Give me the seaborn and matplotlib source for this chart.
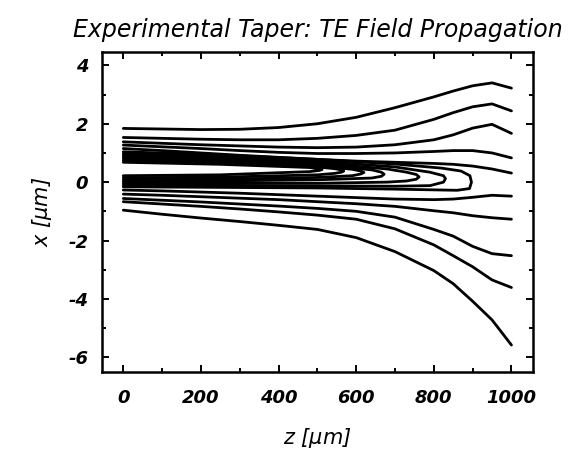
import matplotlib
matplotlib.use("Agg")
import matplotlib.pyplot as plt
from matplotlib.ticker import MultipleLocator
import numpy as np
import pandas as pd
import seaborn as sns

# Propagation distance samples (um) for the open contours
z_grid = [0, 100, 200, 300, 400, 500, 600, 700, 800, 850, 900, 950, 1000]

# Open contours above the guide (x in um)
upper_a = [1.84, 1.82, 1.80, 1.81, 1.87, 2.00, 2.22, 2.55, 2.92, 3.12, 3.30, 3.40, 3.22]
upper_b = [1.53, 1.50, 1.47, 1.45, 1.45, 1.50, 1.60, 1.78, 2.15, 2.38, 2.58, 2.68, 2.44]
upper_c = [1.38, 1.33, 1.28, 1.24, 1.20, 1.18, 1.20, 1.28, 1.45, 1.62, 1.85, 1.98, 1.67]
upper_d = [1.27, 1.21, 1.15, 1.08, 1.02, 0.98, 0.98, 1.00, 1.05, 1.08, 1.08, 1.00, 0.83]
upper_e = [1.15, 1.08, 1.00, 0.92, 0.85, 0.78, 0.72, 0.68, 0.64, 0.61, 0.55, 0.45, 0.31]

# Open contours below the guide
lower_f = [-0.27, -0.30, -0.34, -0.38, -0.43, -0.48, -0.53, -0.58, -0.60, -0.58, -0.52, -0.45, -0.48]
lower_g = [-0.41, -0.45, -0.50, -0.55, -0.60, -0.67, -0.74, -0.83, -0.98, -1.05, -1.15, -1.22, -1.27]
lower_h = [-0.56, -0.62, -0.68, -0.75, -0.82, -0.90, -1.00, -1.20, -1.62, -1.85, -2.20, -2.45, -2.52]
lower_i = [-0.67, -0.75, -0.83, -0.92, -1.02, -1.13, -1.27, -1.60, -2.15, -2.52, -2.90, -3.35, -3.61]
lower_j = [-0.96, -1.10, -1.23, -1.35, -1.48, -1.62, -1.90, -2.38, -3.03, -3.48, -4.08, -4.72, -5.58]

# Closed-ended contours around the field maximum (path: upper arm, tip, lower arm)
loop1_z = [0, 250, 500, 700, 820, 870, 893, 897, 892, 860, 700, 500, 250, 0]
loop1_x = [1.04, 0.93, 0.78, 0.62, 0.48, 0.38, 0.22, 0.0, -0.22, -0.28, -0.24, -0.20, -0.18, -0.16]
loop2_z = [0, 250, 500, 700, 790, 825, 830, 825, 790, 700, 500, 250, 0]
loop2_x = [0.98, 0.87, 0.72, 0.52, 0.34, 0.22, 0.12, 0.0, -0.12, -0.14, -0.13, -0.11, -0.10]
loop3_z = [0, 250, 500, 680, 730, 755, 762, 755, 730, 680, 500, 250, 0]
loop3_x = [0.92, 0.82, 0.66, 0.45, 0.34, 0.26, 0.18, 0.10, 0.04, 0.0, -0.04, -0.04, -0.04]
loop4_z = [0, 250, 500, 640, 665, 672, 665, 640, 500, 250, 0]
loop4_x = [0.86, 0.76, 0.60, 0.42, 0.34, 0.27, 0.20, 0.14, 0.08, 0.04, 0.02]
loop5_z = [0, 250, 500, 590, 612, 620, 612, 590, 500, 250, 0]
loop5_x = [0.80, 0.71, 0.56, 0.44, 0.38, 0.33, 0.28, 0.22, 0.16, 0.10, 0.08]
loop6_z = [0, 250, 500, 545, 562, 568, 562, 545, 500, 250, 0]
loop6_x = [0.74, 0.66, 0.52, 0.46, 0.42, 0.38, 0.34, 0.30, 0.25, 0.17, 0.15]
loop7_z = [0, 250, 480, 505, 512, 505, 480, 250, 0]
loop7_x = [0.68, 0.61, 0.50, 0.46, 0.43, 0.40, 0.36, 0.25, 0.22]

x_ticks = [-6, -4, -2, 0, 2, 4]
z_ticks = [0, 200, 400, 600, 800, 1000]

open_lines = {
    "a": upper_a, "b": upper_b, "c": upper_c, "d": upper_d, "e": upper_e,
    "f": lower_f, "g": lower_g, "h": lower_h, "i": lower_i, "j": lower_j,
}
loops = {
    "l1": (loop1_z, loop1_x), "l2": (loop2_z, loop2_x), "l3": (loop3_z, loop3_x),
    "l4": (loop4_z, loop4_x), "l5": (loop5_z, loop5_x), "l6": (loop6_z, loop6_x),
    "l7": (loop7_z, loop7_x),
}

frames = []
for name, xs in open_lines.items():
    frames.append(pd.DataFrame({"z": z_grid, "x": xs, "level": name}))
for name, (zs, xs) in loops.items():
    frames.append(pd.DataFrame({"z": zs, "x": xs, "level": name}))
df = pd.concat(frames, ignore_index=True)

sns.set_style("ticks")
plt.rcParams["font.family"] = ["DejaVu Sans"]
plt.rcParams["text.color"] = "black"
plt.rcParams["axes.labelcolor"] = "black"
plt.rcParams["xtick.color"] = "black"
plt.rcParams["ytick.color"] = "black"

fig = plt.figure(figsize=(5.76, 4.58), dpi=100)
ax = fig.add_axes([0.177, 0.188, 0.748, 0.698])

sns.lineplot(data=df, x="z", y="x", units="level", estimator=None, sort=False,
             color="black", linewidth=2.0, legend=False, ax=ax)

ax.set_xlim(-55, 1055)
ax.set_ylim(-6.5, 4.45)
ax.set_xticks(z_ticks)
ax.set_yticks(x_ticks)
ax.xaxis.set_minor_locator(MultipleLocator(100))
ax.yaxis.set_minor_locator(MultipleLocator(1))
ax.tick_params(which="both", direction="in", top=True, right=True, width=1.4, color="black")
ax.tick_params(which="major", length=5)
ax.tick_params(axis="x", which="major", pad=12)
ax.tick_params(axis="y", which="major", pad=10)
ax.tick_params(which="minor", length=3)
for sp in ax.spines.values():
    sp.set_linewidth(1.8)
    sp.set_color("black")

tick_font = dict(family="DejaVu Sans", size=13, weight="bold", style="italic")
ax.set_xticklabels([str(t) for t in z_ticks], fontdict=tick_font)
ax.set_yticklabels([str(t) for t in x_ticks], fontdict=tick_font)

label_font = dict(family="DejaVu Sans", size=15, style="italic")
ax.set_xlabel(r"z [$\mathit{\mu}$m]", fontdict=label_font, labelpad=14)
ax.set_ylabel(r"x [$\mathit{\mu}$m]", fontdict=label_font, labelpad=10)
ax.set_title("Experimental Taper: TE Field Propagation",
             fontdict=dict(family="DejaVu Sans", size=17, style="italic"), pad=11)

fig.savefig("out.png", dpi=100, facecolor="white")
